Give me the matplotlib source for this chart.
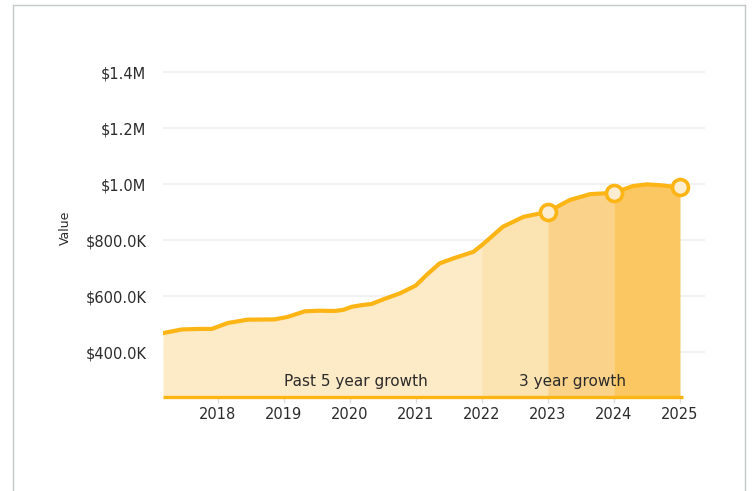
import matplotlib
matplotlib.use('Agg')
from matplotlib import pyplot as plt
from matplotlib.lines import Line2D
from matplotlib.ticker import FuncFormatter
import numpy as np

# home value history (fractional year, value in $K)
years = [2017.17, 2017.45, 2017.7, 2017.91, 2018.15, 2018.45, 2018.86, 2019.06,
         2019.32, 2019.55, 2019.77, 2019.9, 2020.03, 2020.18, 2020.33, 2020.5,
         2020.76, 2021.0, 2021.16, 2021.36, 2021.57, 2021.87, 2022.0, 2022.32,
         2022.63, 2023.0, 2023.33, 2023.64, 2024.0, 2024.29, 2024.5, 2024.7, 2025.0]
values_k = [468, 481, 483, 483, 504, 516, 517, 526,
            546, 548, 547, 551, 562, 568, 572, 588,
            610, 638, 675, 717, 735, 758, 782, 848,
            883, 901, 943, 964, 969, 993, 999, 996, 988]

marker_years = [2023, 2024, 2025]
tick_years = [2018, 2019, 2020, 2021, 2022, 2023, 2024, 2025]
y_ticks_k = [400, 600, 800, 1000, 1200, 1400]

band_edges = [2022, 2023, 2024, 2025]
band_colors = ['#fce3b2', '#fad28a', '#fbc762']

LINE = '#fdb515'
BASE_FILL = '#fdeac7'
TEXT = '#2b2b2b'
Y_MIN = 240e3
Y_MAX = 1450e3

x = np.array(years)
y = np.array(values_k) * 1e3


def money(v, pos):
    if v >= 1e6:
        return f'${v / 1e6:.1f}M'
    return f'${v / 1e3:.1f}K'


fig = plt.figure(figsize=(7.52, 4.91), dpi=100)
ax = fig.add_axes([163 / 752, 1 - 397 / 491, 542 / 752, 339 / 491])

ax.fill_between(x, Y_MIN, y, color=BASE_FILL, linewidth=0, zorder=1)
for i, col in enumerate(band_colors):
    m = (x >= band_edges[i]) & (x <= band_edges[i + 1])
    ax.fill_between(x[m], Y_MIN, y[m], color=col, linewidth=0, zorder=1.1)

ax.plot(x, y, color=LINE, lw=3, solid_joinstyle='round', solid_capstyle='round', zorder=3)

my = [y[np.argmin(np.abs(x - yr))] for yr in marker_years]
ax.plot(marker_years, my, 'o', ms=11.5, mfc='#fcecd0', mec=LINE, mew=2.6, zorder=4,
        clip_on=False)

# baseline under the filled area
ax.hlines(Y_MIN, x[0], 2025.05, color=LINE, lw=2.4, zorder=5, clip_on=False)

ax.text(2020.09, 296e3, 'Past 5 year growth', ha='center', va='center',
        fontsize=11, color=TEXT, zorder=6)
ax.text(2023.38, 296e3, '3 year growth', ha='center', va='center',
        fontsize=11, color=TEXT, zorder=6)

ax.set_xlim(2017.17, 2025.38)
ax.set_ylim(Y_MIN, Y_MAX)
ax.set_yticks([v * 1e3 for v in y_ticks_k])
ax.yaxis.set_major_formatter(FuncFormatter(money))
ax.set_xticks(tick_years)
ax.set_xticklabels([str(t) for t in tick_years])
ax.grid(axis='y', color='#f1f1f1', lw=1.5, zorder=0)
ax.set_axisbelow(True)
for s in ax.spines.values():
    s.set_visible(False)
ax.tick_params(axis='y', length=0, pad=12, labelsize=10.5, labelcolor=TEXT)
ax.tick_params(axis='x', length=4, width=1, color='#dddddd', pad=3,
               labelsize=10.5, labelcolor=TEXT)
ax.set_ylabel('Value', fontsize=9, color=TEXT, labelpad=10)

# outer frame
for xs, ys in [([13 / 752, 13 / 752], [0, 1 - 5 / 491]),
               ([745 / 752, 745 / 752], [0, 1 - 5 / 491]),
               ([13 / 752, 745 / 752], [1 - 5 / 491, 1 - 5 / 491])]:
    fig.add_artist(Line2D(xs, ys, color='#c3c8c8', lw=1))

fig.savefig('out.png', dpi=100)
